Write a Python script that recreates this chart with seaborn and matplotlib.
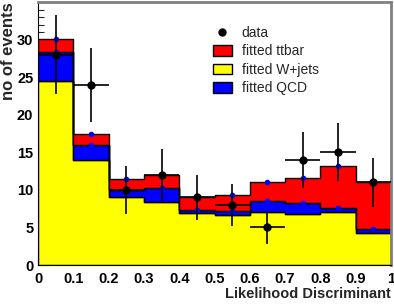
import numpy as np
import pandas as pd
import matplotlib
matplotlib.use('Agg')
import matplotlib.pyplot as plt
import seaborn as sns
from matplotlib.patches import Patch
from matplotlib.lines import Line2D

# bin centres of the likelihood discriminant
bin_centers = [0.05, 0.15, 0.25, 0.35, 0.45, 0.55, 0.65, 0.75, 0.85, 0.95]
bin_edges = [0, 0.1, 0.2, 0.3, 0.4, 0.5, 0.6, 0.7, 0.8, 0.9, 1.0]

# fitted contributions per bin
wjets = [24.5, 14.0, 9.0, 8.4, 6.9, 6.7, 7.0, 6.75, 7.1, 4.2]
qcd = [3.9, 2.0, 1.0, 1.8, 0.4, 0.5, 1.5, 1.55, 0.45, 0.55]
ttbar = [1.7, 1.5, 1.5, 1.8, 1.7, 2.1, 2.5, 3.25, 5.65, 6.25]

# observed data
data = [28, 24, 10, 12, 9, 8, 5, 14, 15, 11]

sns.set_style('ticks')
plt.rcParams['font.family'] = ['Liberation Sans', 'DejaVu Sans']

df = pd.DataFrame({
    'x': bin_centers * 3,
    'w': wjets + qcd + ttbar,
    'sample': ['fitted W+jets'] * 10 + ['fitted QCD'] * 10 + ['fitted ttbar'] * 10,
})

fig = plt.figure(figsize=(3.94, 3.05), dpi=100)
ax = fig.add_axes([0.097, 0.131, 0.895, 0.862])

palette = {'fitted W+jets': '#ffff00', 'fitted QCD': '#0000ff', 'fitted ttbar': '#ff0000'}
sns.histplot(data=df, x='x', weights='w', hue='sample', bins=bin_edges,
             hue_order=['fitted ttbar', 'fitted QCD', 'fitted W+jets'],
             multiple='stack', element='step', palette=palette, alpha=1,
             edgecolor='black', linewidth=1, legend=False, ax=ax)

# small markers on top of the stacked components
tops_qcd = np.array(wjets) + np.array(qcd)
tops_all = tops_qcd + np.array(ttbar)
ax.plot(bin_centers, tops_qcd, 'o', color='#0000ff', markersize=3, zorder=4)
ax.plot(bin_centers, tops_all, 'o', color='#0000ff', markersize=3, zorder=4)

# data with poisson errors
ax.errorbar(bin_centers, data, xerr=0.05, yerr=np.sqrt(data), fmt='o',
            color='black', markersize=5, elinewidth=1.2, capsize=0, zorder=5)

ax.set_xlim(0, 1)
ax.set_ylim(0, 35)
ax.set_xticks(np.arange(0, 1.01, 0.1))
ax.set_xticklabels(['0', '0.1', '0.2', '0.3', '0.4', '0.5', '0.6', '0.7', '0.8', '0.9', '1'])
ax.set_yticks(np.arange(0, 31, 5))
ax.set_yticks(np.arange(0, 35, 1), minor=True)
ax.tick_params(direction='in', labelsize=10.5, length=8, width=0.8, colors='black')
ax.tick_params(axis='x', pad=5)
ax.tick_params(axis='y', pad=3.5)
ax.tick_params(which='minor', direction='in', length=4, width=0.8)
for lab in ax.get_xticklabels() + ax.get_yticklabels():
    lab.set_fontweight('bold')

ax.set_xlabel('Likelihood Discriminant', fontsize=10.5, fontweight='bold', loc='right', labelpad=1)
ax.set_ylabel('no of events', fontsize=12, fontweight='bold', loc='top')
ax.yaxis.set_label_coords(-0.062, 1.0)

for s in ['left', 'bottom']:
    ax.spines[s].set_color('black')
for s in ['top', 'right']:
    ax.spines[s].set_color('#808080')
    ax.spines[s].set_linewidth(2)

handles = [
    Line2D([], [], marker='o', color='black', linestyle='none', markersize=5),
    Patch(facecolor='#ff0000', edgecolor='black'),
    Patch(facecolor='#ffff00', edgecolor='black'),
    Patch(facecolor='#0000ff', edgecolor='black'),
]
ax.legend(handles, ['data', 'fitted ttbar', 'fitted W+jets', 'fitted QCD'],
          loc='upper left', bbox_to_anchor=(0.496, 0.91), frameon=False,
          borderaxespad=0, borderpad=0, fontsize=10, handlelength=1.35,
          handleheight=0.8, handletextpad=0.7, labelspacing=0.32)

fig.savefig('out.png', dpi=100)
